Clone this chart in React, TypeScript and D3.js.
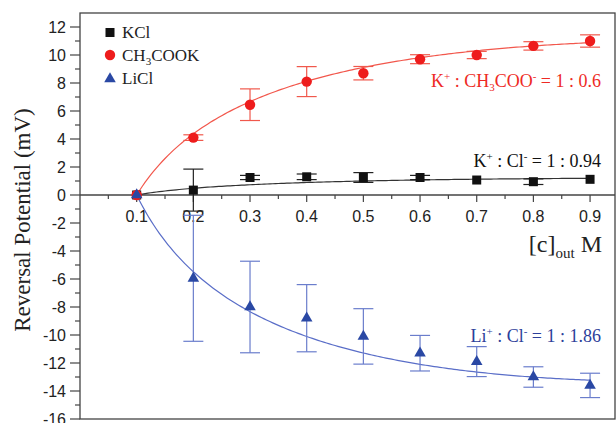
import React from "react";
import * as d3 from "d3";

const conc = [0.1, 0.2, 0.3, 0.4, 0.5, 0.6, 0.7, 0.8, 0.9];
const kcl = [0, 0.35, 1.25, 1.3, 1.25, 1.25, 1.07, 0.95, 1.12];
const kclErr = [0, 1.5, 0.15, 0.2, 0.35, 0.15, 0, 0.2, 0];
const ch3cook = [0, 4.1, 6.45, 8.1, 8.7, 9.7, 10.0, 10.65, 11.0];
const ch3cookErr = [0, 0.2, 1.13, 1.07, 0.48, 0.32, 0.26, 0.3, 0.44];
const licl = [0, -5.95, -8.0, -8.8, -10.1, -11.3, -11.9, -13.0, -13.6];
const liclErr = [0, 4.5, 3.27, 2.4, 1.98, 1.27, 1.07, 0.73, 0.87];

// fit parameters: y = A*ln(x/0.1) + B*(x-0.1)
const fitKcl = [0.79, -0.68];
const fitCh3 = [7.19, -6.15];
const fitLicl = [-9.15, 8.6];

const xTicks = [0.1, 0.2, 0.3, 0.4, 0.5, 0.6, 0.7, 0.8, 0.9];
const yTicks = [-16, -14, -12, -10, -8, -6, -4, -2, 0, 2, 4, 6, 8, 10, 12];

const W = 616, H = 423;
const L = 80, R = 615, T = 13, B = 419;
const SERIF = "'Liberation Serif', 'Times New Roman', serif";
const SANS = "'Liberation Sans', Arial, sans-serif";

export default function App() {
  const x = d3.scaleLinear().domain([0, 0.944]).range([L, R]);
  const y = d3.scaleLinear().domain([-16, 13]).range([B, T]);

  const fitFn = (p: number[]) => (v: number) => p[0] * Math.log(v / 0.1) + p[1] * (v - 0.1);
  const fitLine = (p: number[]) => {
    const f = fitFn(p);
    const xs = d3.range(0.1, 0.9001, 0.005);
    return d3.line<number>().x((v) => x(v)).y((v) => y(f(v)))(xs) || "";
  };

  const series = [
    { vals: kcl, err: kclErr, fit: fitKcl, color: "#111", line: "#333", errColor: "#222", shape: "square" },
    { vals: ch3cook, err: ch3cookErr, fit: fitCh3, color: "#ee1c1c", line: "#f2574c", errColor: "#f0584c", shape: "circle" },
    { vals: licl, err: liclErr, fit: fitLicl, color: "#2a48a4", line: "#5a6ec8", errColor: "#6a7dcc", shape: "triangle" },
  ];

  const marker = (shape: string, cx: number, cy: number, color: string, key: string) => {
    if (shape === "square") return <rect key={key} x={cx - 4.5} y={cy - 4.5} width={9} height={9} fill={color} />;
    if (shape === "circle") return <circle key={key} cx={cx} cy={cy} r={5.2} fill={color} />;
    const p = d3.symbol().type(d3.symbolTriangle).size(58)() || "";
    return <path key={key} d={p} transform={`translate(${cx},${cy})`} fill={color} />;
  };

  const y0 = y(0);
  const xMinor = d3.range(0.05, 0.94, 0.1);
  const yMinor = d3.range(-15, 13, 2);

  return (
    <svg width={W} height={H} style={{ position: "absolute", left: 0, top: 0, background: "#fff" }}>
      {/* frame */}
      <rect x={L} y={T} width={R - L} height={B - T} fill="none" stroke="#444" strokeWidth={1.3} />
      {/* zero axis */}
      <line x1={L} x2={R} y1={y0} y2={y0} stroke="#444" strokeWidth={1.3} />
      {xTicks.map((t) => (
        <g key={"xt" + t}>
          <line x1={x(t)} x2={x(t)} y1={y0} y2={y0 + 7} stroke="#444" strokeWidth={1.2} />
          <text x={x(t)} y={y0 + 27} textAnchor="middle" fontFamily={SANS} fontSize={16} fill="#222">
            {t.toFixed(1)}
          </text>
        </g>
      ))}
      {xMinor.map((t) => (
        <line key={"xm" + t} x1={x(t)} x2={x(t)} y1={y0} y2={y0 + 4} stroke="#444" strokeWidth={1.2} />
      ))}
      {yTicks.map((t) => (
        <g key={"yt" + t}>
          <line x1={L - 10} x2={L} y1={y(t)} y2={y(t)} stroke="#444" strokeWidth={1.2} />
          <text x={L - 14} y={y(t) + 5.5} textAnchor="end" fontFamily={SANS} fontSize={16} fill="#222">
            {t}
          </text>
        </g>
      ))}
      {yMinor.map((t) => (
        <line key={"ym" + t} x1={L - 5} x2={L} y1={y(t)} y2={y(t)} stroke="#444" strokeWidth={1.2} />
      ))}

      {/* y title */}
      <text
        transform={`translate(30,220) rotate(-90)`}
        textAnchor="middle"
        fontFamily={SERIF}
        fontSize={23}
        fill="#222"
      >
        Reversal Potential (mV)
      </text>

      {/* fit lines */}
      {series.map((s, i) => (
        <path key={"fit" + i} d={fitLine(s.fit)} fill="none" stroke={s.line} strokeWidth={1.2} />
      ))}

      {/* error bars */}
      {series.map((s, i) =>
        s.vals.map((v, j) => {
          const e = s.err[j];
          if (!e) return null;
          const cx = x(conc[j]);
          const yt = y(v + e), yb = y(v - e);
          return (
            <g key={`e${i}-${j}`} stroke={s.errColor} strokeWidth={1.2}>
              <line x1={cx} x2={cx} y1={yt} y2={yb} />
              <line x1={cx - 10} x2={cx + 10} y1={yt} y2={yt} />
              <line x1={cx - 10} x2={cx + 10} y1={yb} y2={yb} />
            </g>
          );
        })
      )}

      {/* markers */}
      {series.map((s, i) => s.vals.map((v, j) => marker(s.shape, x(conc[j]), y(v), s.color, `m${i}-${j}`)))}

      {/* legend */}
      {marker("square", 110, 32.5, "#111", "lg1")}
      <text x={122} y={38} fontFamily={SERIF} fontSize={17} fill="#222">KCl</text>
      {marker("circle", 110, 55, "#ee1c1c", "lg2")}
      <text x={122} y={61} fontFamily={SERIF} fontSize={17} fill="#222">
        CH<tspan dy={4} fontSize={11}>3</tspan><tspan dy={-4}>COOK</tspan>
      </text>
      {marker("triangle", 110, 79, "#2a48a4", "lg3")}
      <text x={122} y={84} fontFamily={SERIF} fontSize={17} fill="#222">LiCl</text>

      {/* annotations */}
      <text x={601} y={87} textAnchor="end" fontFamily={SERIF} fontSize={18} fill="#ee2a24">
        K<tspan dy={-7} fontSize={11}>+</tspan><tspan dy={7}> : CH</tspan><tspan dy={4} fontSize={11}>3</tspan>
        <tspan dy={-4}>COO</tspan><tspan dy={-7} fontSize={11}>-</tspan><tspan dy={7}> = 1 : 0.6</tspan>
      </text>
      <text x={601} y={166.5} textAnchor="end" fontFamily={SERIF} fontSize={18} fill="#111">
        K<tspan dy={-7} fontSize={11}>+</tspan><tspan dy={7}> : Cl</tspan><tspan dy={-7} fontSize={11}>-</tspan>
        <tspan dy={7}> = 1 : 0.94</tspan>
      </text>
      <text x={601} y={341.5} textAnchor="end" fontFamily={SERIF} fontSize={18} fill="#2d3f9a">
        Li<tspan dy={-7} fontSize={11}>+</tspan><tspan dy={7}> : Cl</tspan><tspan dy={-7} fontSize={11}>-</tspan>
        <tspan dy={7}> = 1 : 1.86</tspan>
      </text>
      <text x={602} y={251.5} textAnchor="end" fontFamily={SERIF} fontSize={24} fill="#222">
        [c]<tspan dy={6} fontSize={15}>out</tspan><tspan dy={-6}> M</tspan>
      </text>
    </svg>
  );
}
